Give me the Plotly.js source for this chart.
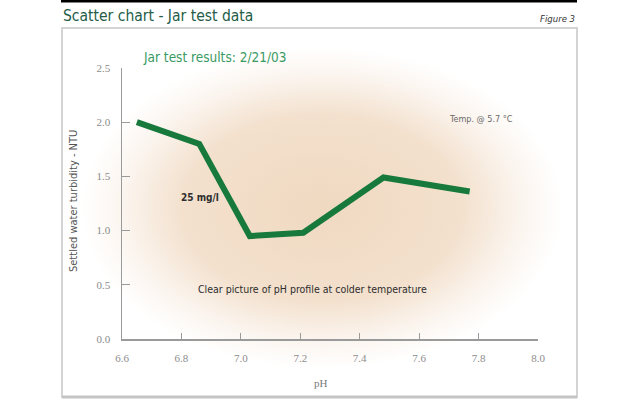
<!DOCTYPE html>
<html>
<head>
<meta charset="utf-8">
<script src="https://cdn.plot.ly/plotly-3.0.1.min.js"></script>
<style>
  html, body { margin: 0; padding: 0; background: #ffffff; }
  #wrap { position: relative; width: 640px; height: 400px; overflow: hidden; }
  #bg { position: absolute; left: 0; top: 0; width: 640px; height: 400px;
        background: radial-gradient(ellipse 240px 160px at 322px 208px,
          rgba(240,217,193,1) 0%, rgba(242,222,201,0.92) 58%, rgba(247,233,220,0.5) 82%, rgba(255,255,255,0) 100%); }
  #chart { position: absolute; left: 0; top: 0; width: 640px; height: 400px; }
</style>
</head>
<body>
<div id="wrap"><div id="bg"></div><div id="chart"></div></div>
<script>
// Data
const phValues = [6.65, 6.86, 7.03, 7.21, 7.48, 7.77];
const turbidity = [2.00, 1.80, 0.95, 0.98, 1.49, 1.36];
const xTickVals = [6.6, 6.8, 7.0, 7.2, 7.4, 7.6, 7.8, 8.0];
const xTickText = ["6.6", "6.8", "7.0", "7.2", "7.4", "7.6", "7.8", "8.0"];
const yTickVals = [0.0, 0.5, 1.0, 1.5, 2.0, 2.5];
const yTickText = ["0.0", "0.5", "1.0", "1.5", "2.0", "2.5"];

const chartTitle = "Scatter chart - Jar test data";
const figureLabel = "Figure 3";
const subTitle = "Jar test results: 2/21/03";
const doseLabel = "25 mg/l";
const tempLabel = "Temp. @ 5.7 °C";
const noteLabel = "Clear picture of pH profile at colder temperature";
const yTitle = "Settled water turbidity - NTU";
const xTitle = "pH";

// layout geometry (pixels)
const W = 640, H = 400;
const L = 122, R = 538, T = 68, B = 339;
const px = x => (x - L) / (R - L);
const py = y => (B - y) / (B - T);

const narrow = "Liberation Sans Narrow, DejaVu Sans Condensed, Arial Narrow, sans-serif";
const serif = "Liberation Serif, DejaVu Serif, serif";

const trace = {
  x: phValues, y: turbidity, type: "scatter", mode: "lines",
  line: { color: "#17793b", width: 6 },
  hoverinfo: "skip"
};

const layout = {
  width: W, height: H,
  margin: { l: L, r: W - R, t: T, b: H - B, pad: 0 },
  paper_bgcolor: "rgba(0,0,0,0)",
  plot_bgcolor: "rgba(0,0,0,0)",
  showlegend: false,
  xaxis: {
    range: [6.6, 8.0], tickvals: xTickVals, ticktext: xTickText,
    showline: true, linecolor: "#9a9a9a", linewidth: 1.5,
    ticks: "inside", ticklen: 6, tickwidth: 1.2, tickcolor: "#9a9a9a",
    showgrid: false, zeroline: false, fixedrange: true,
    tickfont: { family: serif, size: 11, color: "#8c8c8c" },
    ticklabelstandoff: 8
  },
  yaxis: {
    range: [0, 2.5], tickvals: yTickVals, ticktext: yTickText,
    showline: true, linecolor: "#9a9a9a", linewidth: 1.5,
    ticks: "inside", ticklen: 8, tickwidth: 1.2, tickcolor: "#9a9a9a",
    showgrid: false, zeroline: false, fixedrange: true,
    tickfont: { family: serif, size: 11, color: "#8c8c8c" },
    ticklabelstandoff: 8
  },
  shapes: [
    { type: "line", xref: "paper", yref: "paper", x0: px(61), x1: px(577), y0: py(1), y1: py(1),
      line: { color: "#000000", width: 3 } },
    { type: "rect", xref: "paper", yref: "paper", x0: px(62), x1: px(577), y0: py(397), y1: py(28),
      line: { color: "#d4d4d4", width: 2 } },
    { type: "line", xref: "paper", yref: "paper", x0: px(62), x1: px(577), y0: py(397), y1: py(397),
      line: { color: "#c4c4c4", width: 3 } }
  ],
  annotations: [
    { text: chartTitle, xref: "paper", yref: "paper", x: px(61), y: py(16), xanchor: "left", yanchor: "middle",
      showarrow: false, font: { family: narrow, size: 15.5, color: "#245c47" } },
    { text: "<i>" + figureLabel + "</i>", xref: "paper", yref: "paper", x: px(577), y: py(18), xanchor: "right", yanchor: "middle",
      showarrow: false, font: { family: narrow, size: 9.5, color: "#333333" } },
    { text: subTitle, xref: "paper", yref: "paper", x: px(141), y: py(57), xanchor: "left", yanchor: "middle",
      showarrow: false, font: { family: narrow, size: 13.5, color: "#3a9a62" } },
    { text: "<b>" + doseLabel + "</b>", xref: "paper", yref: "paper", x: px(200), y: py(197), xanchor: "center", yanchor: "middle",
      showarrow: false, font: { family: narrow, size: 10, color: "#2e2e2e" } },
    { text: tempLabel, xref: "paper", yref: "paper", x: px(447), y: py(119), xanchor: "left", yanchor: "middle",
      showarrow: false, font: { family: narrow, size: 9, color: "#6a6a6a" } },
    { text: noteLabel, xref: "paper", yref: "paper", x: px(312), y: py(289), xanchor: "center", yanchor: "middle",
      showarrow: false, font: { family: narrow, size: 10.5, color: "#2e2e2e" } },
    { text: yTitle, xref: "paper", yref: "paper", x: px(73), y: py(201), xanchor: "center", yanchor: "middle",
      textangle: -90, showarrow: false, font: { family: narrow, size: 11, color: "#555555" } },
    { text: xTitle, xref: "paper", yref: "paper", x: px(321), y: py(383), xanchor: "center", yanchor: "middle",
      showarrow: false, font: { family: serif, size: 11, color: "#7a7a7a" } }
  ]
};

Plotly.newPlot("chart", [trace], layout, { displayModeBar: false, staticPlot: true });
</script>
</body>
</html>
